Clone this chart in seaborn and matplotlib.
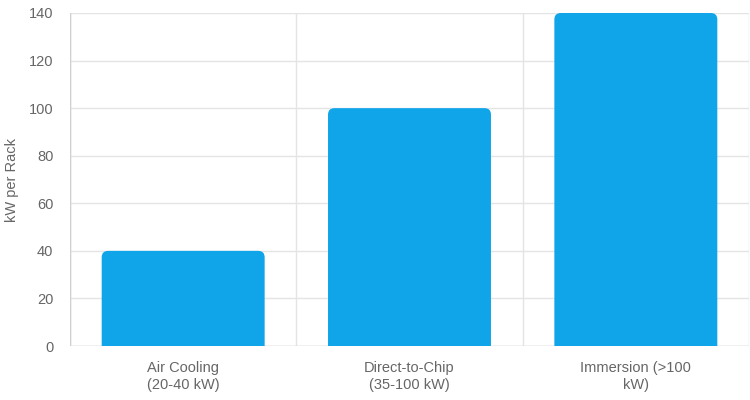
import matplotlib
matplotlib.use("Agg")
import matplotlib.pyplot as plt
import numpy as np
import pandas as pd
import seaborn as sns
from matplotlib.path import Path
from matplotlib.patches import PathPatch

# Data
categories = ["Air Cooling\n(20-40 kW)", "Direct-to-Chip\n(35-100 kW)", "Immersion (>100\nkW)"]
kw_per_rack = [40, 100, 140]

sns.set_style("white")
plt.rcParams["font.family"] = ["Liberation Sans", "DejaVu Sans"]

BAR_COLOR = "#10A5E9"
GRID_COLOR = "#e4e4e4"
TEXT_COLOR = "#666666"

df = pd.DataFrame({"method": categories, "kw": kw_per_rack})

fig = plt.figure(figsize=(7.5, 4), dpi=100)
ax = fig.add_axes([70 / 750, 54 / 400, 679 / 750, 333 / 400])

sns.barplot(data=df, x="method", y="kw", color=BAR_COLOR, saturation=1,
            width=0.72, ax=ax)

ax.set_ylim(0, 140)
ax.set_xlim(-0.5, len(categories) - 0.5)
ax.set_yticks(np.arange(0, 141, 20))

# round the top corners of each bar (Chart.js style)
px_x = 679 / len(categories)
px_y = 333 / 140
r = 6.5
for bar in list(ax.patches):
    x0, y0 = bar.get_x(), bar.get_y()
    w, h = bar.get_width(), bar.get_height()
    rx, ry = r / px_x, r / px_y
    x1, y1 = x0 + w, y0 + h
    verts = [
        (x0, y0), (x0, y1 - ry), (x0, y1), (x0 + rx, y1),
        (x1 - rx, y1), (x1, y1), (x1, y1 - ry), (x1, y0), (x0, y0),
    ]
    codes = [
        Path.MOVETO, Path.LINETO, Path.CURVE3, Path.CURVE3,
        Path.LINETO, Path.CURVE3, Path.CURVE3, Path.LINETO, Path.CLOSEPOLY,
    ]
    ax.add_patch(PathPatch(Path(verts, codes), facecolor=BAR_COLOR,
                           edgecolor="none", zorder=3))
    bar.remove()

# grid: horizontal at y ticks, vertical at category boundaries
for yv in np.arange(0, 141, 20):
    ax.axhline(yv, color=GRID_COLOR, lw=1, zorder=0)
for xv in np.arange(-0.5, len(categories), 1):
    ax.axvline(xv, color=GRID_COLOR, lw=1, zorder=0)
ax.axhline(0, color="#d0d0d0", lw=1, zorder=1)
ax.axvline(-0.5, color="#d0d0d0", lw=1, zorder=1)

# x ticks at category boundaries, labels centred on categories
ax.set_xticks(np.arange(-0.5, len(categories), 1))
ax.set_xticklabels([""] * (len(categories) + 1))
ax.tick_params(axis="x", length=9, color=GRID_COLOR, width=1)
ax.set_xticks(np.arange(len(categories)), minor=True)
ax.set_xticklabels(categories, minor=True)
ax.tick_params(axis="x", which="minor", length=0, pad=11,
               labelsize=10.5, labelcolor=TEXT_COLOR)
for lbl in ax.get_xticklabels(minor=True):
    lbl.set_linespacing(1.25)

ax.tick_params(axis="y", length=8, color=GRID_COLOR, width=1, pad=4,
               labelsize=10.5, labelcolor=TEXT_COLOR)

for s in ax.spines.values():
    s.set_visible(False)

ax.set_xlabel("")
ax.set_ylabel("kW per Rack", fontsize=10.5, color=TEXT_COLOR)
ax.yaxis.set_label_coords(-51 / 679, 0.5)

fig.savefig("out.png", dpi=100)
